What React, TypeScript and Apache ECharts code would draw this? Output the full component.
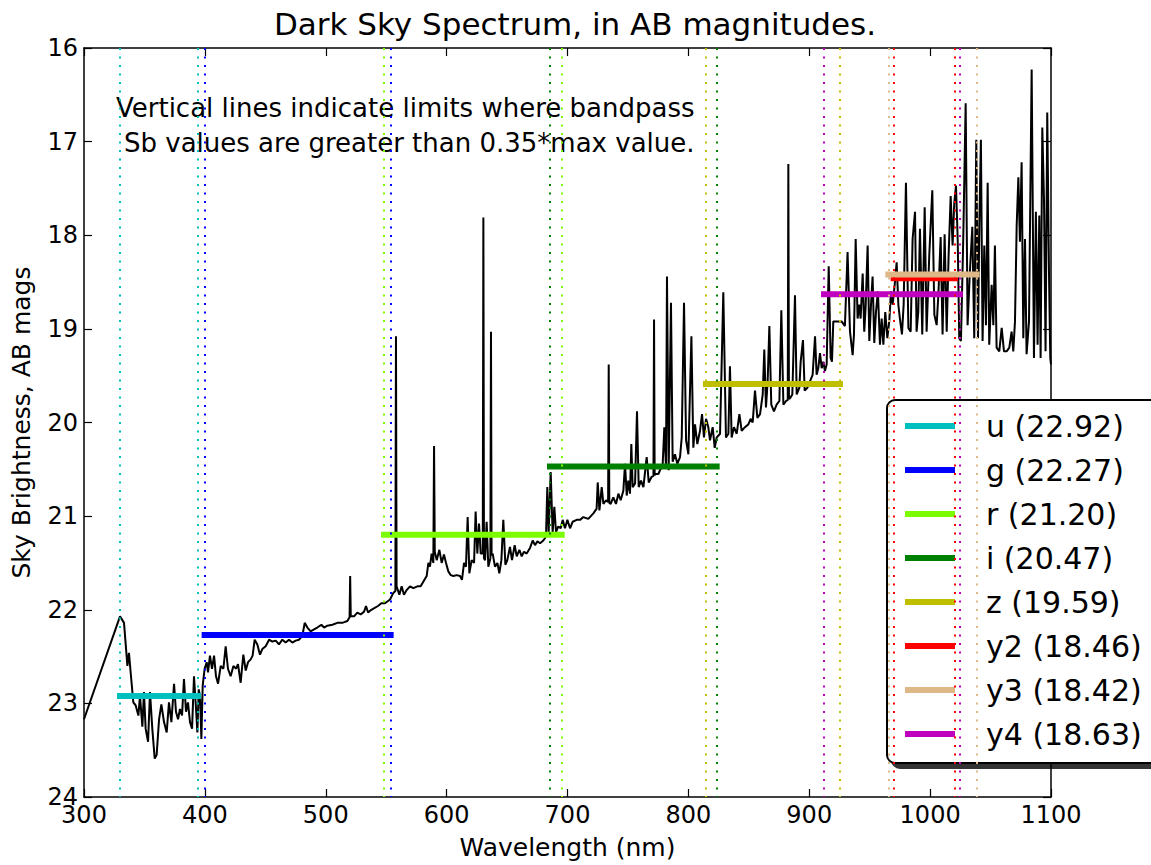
import React, { useEffect, useRef } from 'react';
import * as echarts from 'echarts';

// Spectrum: wavelength (nm) and sky brightness (AB mag)
const specWave = [
  300, 329.8, 333.1, 335.9, 337.2, 338.6, 340.8, 342.7, 345.0, 346.3, 348.3, 349.6, 351.0, 353.0, 354.6, 356.5,
  358.5, 360.1, 362.1, 364.0, 366.2, 368.4, 370.3, 372.3, 374.5, 376.1, 377.8, 379.4, 381.1, 382.7, 384.4, 386.0,
  387.7, 389.4, 391.0, 392.7, 393.8, 394.9, 396.0, 397.1, 398.2, 399.8, 401.5, 402.6, 404.2, 405.9, 407.6, 409.2,
  410.9, 413.1, 415.3, 417.2, 419.1, 421.3, 423.6, 425.8, 427.4, 429.6, 431.8, 433.8, 435.7, 437.9, 439.5, 441.2,
  443.4, 445.6, 447.5, 450.3, 453.1, 455.8, 458.6, 461.3, 464.1, 466.8, 469.6, 472.4, 475.1, 477.9, 480.6, 482.6,
  484.8, 487.5, 490.3, 493.0, 496.4, 498.6, 501.3, 505.5, 509.6, 513.7, 517.9, 519.7, 520.2, 520.7, 523.4, 526.1,
  528.9, 531.7, 533.3, 535.0, 537.7, 540.5, 543.2, 546.0, 549.0, 553.2, 555.9, 557.6, 558.1, 558.6, 560.9, 562.8,
  564.7, 566.9, 569.7, 572.5, 575.8, 578.5, 580.7, 583.5, 584.9, 586.2, 587.6, 589.0, 589.6, 590.2, 591.8, 594.0,
  595.9, 597.8, 599.5, 601.4, 603.4, 605.6, 608.3, 611.1, 612.7, 614.4, 616.0, 617.4, 618.8, 620.7, 622.7, 624.0,
  625.4, 626.8, 628.2, 629.9, 630.4, 630.9, 631.8, 633.1, 634.5, 636.2, 636.7, 637.2, 638.1, 640.0, 642.0, 643.6,
  645.3, 646.9, 648.6, 650.2, 652.4, 654.1, 656.3, 658.0, 660.2, 662.1, 664.0, 666.2, 669.0, 671.2, 673.1, 675.1,
  677.3, 680.0, 682.2, 683.3, 684.4, 686.1, 687.7, 689.1, 690.5, 692.4, 694.4, 696.0, 697.9, 699.9, 702.1, 704.3,
  707.6, 710.4, 713.1, 717.2, 721.4, 724.1, 725.0, 726.4, 728.3, 729.7, 731.9, 733.6, 734.1, 734.6, 735.7, 737.9,
  740.1, 742.1, 744.0, 746.2, 747.6, 749.0, 750.3, 751.7, 752.8, 753.9, 755.9, 757.5, 758.9, 760.8, 762.8, 765.5,
  767.2, 769.6, 771.1, 771.6, 772.1, 773.2, 775.2, 776.5, 778.7, 780.1, 781.5, 782.3, 783.7, 785.6, 787.0, 788.9,
  790.9, 793.1, 794.5, 796.4, 798.1, 800.0, 802.5, 804.1, 805.5, 807.4, 809.6, 811.3, 812.9, 814.6, 816.5, 817.9,
  820.1, 821.8, 823.4, 826.2, 828.9, 831.1, 833.1, 834.4, 835.8, 837.7, 840.0, 842.2, 844.1, 846.8, 849.6, 851.5,
  853.2, 855.1, 857.1, 859.3, 861.5, 862.8, 864.2, 865.6, 867.0, 868.6, 870.8, 873.0, 875.3, 876.9, 878.6, 880.8,
  882.2, 882.7, 883.2, 884.1, 886.0, 888.2, 889.6, 891.8, 892.9, 894.8, 896.2, 898.4, 900.6, 902.8, 904.8, 906.1,
  907.5, 908.9, 910.3, 911.7, 913.0, 914.4, 916.1, 917.7, 918.8, 919.9, 926.8, 929.5, 931.7, 933.7, 935.9, 937.0,
  938.4, 940.0, 941.4, 942.5, 944.2, 945.5, 946.6, 948.3, 949.7, 951.1, 952.4, 953.8, 955.2, 956.8, 958.5, 959.9,
  961.3, 962.9, 964.6, 966.2, 967.6, 969.0, 970.9, 972.3, 973.7, 975.0, 976.7, 978.1, 980.0, 982.0, 983.9, 985.5,
  987.5, 988.8, 990.2, 991.6, 993.5, 995.5, 997.1, 999.3, 1001.8, 1003.5, 1005.4, 1006.8, 1008.7, 1010.3, 1012.0, 1013.7,
  1015.3, 1017.0, 1018.6, 1020.0, 1021.4, 1022.8, 1024.1, 1025.5, 1027.4, 1029.4, 1031.0, 1032.9, 1034.9, 1036.5, 1038.2, 1039.6,
  1040.7, 1042.0, 1043.4, 1044.8, 1046.2, 1047.6, 1048.9, 1050.9, 1052.3, 1053.6, 1055.0, 1057.2, 1059.2, 1061.1, 1063.3, 1065.5,
  1067.4, 1068.8, 1070.2, 1071.6, 1073.0, 1074.3, 1075.7, 1077.1, 1078.5, 1079.8, 1081.8, 1084.0, 1085.9, 1087.5, 1088.9, 1090.3,
  1091.4, 1092.8, 1094.2, 1095.5, 1096.9, 1098.3, 1099.4, 1100,
];
const specMag = [
  23.17, 22.07, 22.14, 22.60, 22.46, 22.67, 22.99, 23.02, 23.13, 22.92, 23.25, 22.88, 23.27, 23.41, 22.88, 23.27,
  23.59, 23.55, 23.17, 23.01, 23.20, 23.31, 22.99, 23.20, 22.79, 23.09, 23.17, 23.06, 23.13, 22.74, 23.09, 22.99,
  23.20, 23.27, 22.71, 23.06, 23.31, 22.85, 22.92, 23.38, 22.81, 22.63, 22.56, 22.67, 22.49, 22.63, 22.49, 22.71,
  22.79, 22.60, 22.63, 22.39, 22.63, 22.71, 22.60, 22.63, 22.58, 22.78, 22.48, 22.65, 22.56, 22.53, 22.49, 22.32,
  22.37, 22.48, 22.42, 22.39, 22.32, 22.34, 22.33, 22.37, 22.32, 22.35, 22.32, 22.35, 22.33, 22.32, 22.28, 22.14,
  22.19, 22.23, 22.21, 22.19, 22.16, 22.19, 22.17, 22.16, 22.14, 22.14, 22.12, 22.08, 21.64, 22.07, 22.07, 22.03,
  22.05, 22.02, 21.96, 22.03, 22.00, 21.98, 21.96, 21.93, 21.93, 21.89, 21.82, 21.80, 19.08, 21.75, 21.84, 21.75,
  21.84, 21.79, 21.75, 21.77, 21.75, 21.75, 21.70, 21.64, 21.50, 21.54, 21.40, 21.50, 20.25, 21.38, 21.47, 21.36,
  21.50, 21.41, 21.50, 21.59, 21.63, 21.64, 21.63, 21.64, 21.68, 21.50, 21.54, 21.01, 21.61, 21.47, 21.50, 20.95,
  21.40, 21.08, 21.40, 21.40, 17.81, 21.45, 21.47, 21.06, 21.54, 21.45, 19.03, 21.42, 21.40, 21.54, 21.50, 21.61,
  21.47, 21.04, 21.52, 21.47, 21.33, 21.47, 21.31, 21.43, 21.36, 21.43, 21.38, 21.40, 21.34, 21.26, 21.31, 21.27,
  21.29, 21.26, 21.22, 20.69, 21.18, 20.53, 21.18, 20.90, 21.17, 21.11, 21.13, 21.04, 21.13, 21.04, 21.13, 21.06,
  21.04, 21.04, 21.01, 21.03, 20.97, 20.92, 20.64, 20.94, 20.69, 20.87, 20.83, 20.85, 19.38, 20.86, 20.87, 20.80,
  20.87, 20.76, 20.83, 20.73, 20.44, 20.78, 20.62, 20.76, 20.23, 20.69, 20.65, 19.88, 20.69, 20.62, 20.69, 20.37,
  20.64, 20.58, 20.57, 18.90, 20.56, 20.55, 20.55, 20.51, 20.46, 20.05, 20.48, 18.44, 20.51, 18.72, 20.42, 20.34,
  20.44, 20.37, 20.16, 18.72, 20.19, 20.34, 19.08, 20.27, 20.02, 20.23, 20.09, 19.91, 20.16, 19.96, 20.05, 20.19,
  20.05, 20.27, 20.16, 20.12, 18.61, 20.16, 20.12, 19.40, 20.16, 20.05, 20.12, 19.91, 20.09, 20.05, 20.02, 19.96,
  20.00, 19.66, 19.95, 19.91, 19.70, 19.22, 19.84, 19.56, 18.97, 19.81, 19.88, 19.81, 19.77, 18.80, 19.81, 19.77,
  19.76, 17.24, 19.75, 19.74, 19.70, 18.64, 19.70, 19.63, 19.35, 19.12, 19.66, 19.63, 19.56, 19.49, 19.08, 19.49,
  19.42, 19.26, 19.42, 19.35, 19.45, 19.38, 18.33, 19.31, 19.35, 18.92, 18.92, 18.97, 18.18, 19.03, 19.28, 19.06,
  18.04, 18.89, 18.74, 18.89, 18.41, 19.03, 18.78, 18.11, 19.13, 18.74, 18.44, 19.15, 18.82, 18.60, 19.17, 18.89,
  19.17, 18.82, 19.10, 18.92, 18.60, 18.74, 18.50, 18.29, 18.74, 18.89, 19.06, 18.74, 17.44, 18.99, 19.03, 18.04,
  17.75, 19.03, 18.82, 17.93, 19.06, 17.70, 19.03, 18.21, 17.52, 18.85, 18.96, 18.64, 18.02, 19.06, 17.99, 19.03,
  18.21, 17.58, 18.11, 17.65, 17.47, 18.04, 19.10, 19.13, 18.04, 16.59, 18.96, 18.39, 17.91, 19.10, 16.98, 19.10,
  17.90, 16.98, 19.13, 18.11, 18.96, 17.44, 19.17, 18.53, 18.96, 18.11, 19.20, 19.24, 18.99, 19.24, 19.24, 19.20,
  19.03, 19.24, 18.92, 17.90, 17.38, 18.07, 17.22, 19.10, 18.04, 19.27, 18.92, 16.23, 19.31, 17.75, 19.17, 17.79,
  19.31, 16.85, 17.61, 19.24, 16.69, 18.36, 19.31, 19.38,
];

// Bandpasses
const bandNames = ['u', 'g', 'r', 'i', 'z', 'y2', 'y3', 'y4'];
const bandMags = [22.92, 22.27, 21.2, 20.47, 19.59, 18.46, 18.42, 18.63];
const bandLo = [329.8, 399.8, 548.2, 685.5, 814.5, 969.8, 965.4, 912.2];
const bandHi = [394.3, 553.7, 695.2, 823.4, 925.4, 1020.6, 1038.5, 1024.6];
const bandColors = ['#00bfbf', '#0000ff', '#7cfc00', '#008000', '#bfbf00', '#ff0000', '#deb887', '#bf00bf'];

const titleText = 'Dark Sky Spectrum, in AB magnitudes.';
const noteLines = ['Vertical lines indicate limits where bandpass', ' Sb values are greater than 0.35*max value.'];
const xName = 'Wavelength (nm)';
const yName = 'Sky Brightness, AB mags';

export default function App() {
  const ref = useRef<HTMLDivElement>(null);
  useEffect(() => {
    const chart = echarts.init(ref.current!, null, { renderer: 'svg' });
    const font = 'DejaVu Sans';
    const legendNames = bandNames.map((n, i) => `${n} (${bandMags[i].toFixed(2)})`);
    const bandSeries = bandNames.map((n, i) => ({
      name: legendNames[i],
      type: 'line',
      data: [[bandLo[i], bandMags[i]], [bandHi[i], bandMags[i]]],
      symbol: 'none',
      showSymbol: false,
      silent: true,
      lineStyle: { color: bandColors[i], width: 6, cap: 'square' },
      itemStyle: { color: bandColors[i] },
      z: 4,
      markLine: {
        silent: true,
        symbol: 'none',
        label: { show: false },
        lineStyle: { color: bandColors[i], width: 2, type: [2, 6.5] },
        data: [{ xAxis: bandLo[i] }, { xAxis: bandHi[i] }],
      },
    }));
    const axisLine = { show: true, onZero: false, lineStyle: { color: '#000', width: 1.5 } };
    const axisTick = { show: true, inside: true, length: 8, lineStyle: { color: '#000', width: 1.2 } };
    chart.setOption({
      animation: false,
      title: {
        text: titleText,
        left: 570,
        textAlign: 'center',
        top: 3,
        textStyle: { fontFamily: font, fontSize: 31, fontWeight: 'normal', color: '#000' },
      },
      grid: { left: 84, top: 48, width: 967, height: 754, containLabel: false },
      xAxis: [
        {
          type: 'value', min: 300, max: 1100, interval: 100, position: 'bottom',
          axisLine, axisTick, splitLine: { show: false },
          axisLabel: { fontFamily: font, fontSize: 24, color: '#000', margin: 6, formatter: (v: number) => String(v) },
          name: xName, nameLocation: 'middle', nameGap: 38,
          nameTextStyle: { fontFamily: font, fontSize: 25, color: '#000' },
        },
        {
          type: 'value', min: 300, max: 1100, interval: 100, position: 'top',
          axisLine, axisTick, splitLine: { show: false }, axisLabel: { show: false },
        },
      ],
      yAxis: [
        {
          type: 'value', min: 16, max: 24, interval: 1, inverse: true, position: 'left',
          axisLine, axisTick, splitLine: { show: false },
          axisLabel: { fontFamily: font, fontSize: 24, color: '#000', margin: 6 },
          name: yName, nameLocation: 'middle', nameGap: 50, nameRotate: 90,
          nameTextStyle: { fontFamily: font, fontSize: 25, color: '#000' },
        },
        {
          type: 'value', min: 16, max: 24, interval: 1, inverse: true, position: 'right',
          axisLine, axisTick, splitLine: { show: false }, axisLabel: { show: false },
        },
      ],
      legend: {
        orient: 'vertical', left: 887, top: 400,
        data: legendNames.map((n) => ({ name: n, icon: 'rect' })),
        itemWidth: 50, itemHeight: 6, itemGap: 14,
        padding: [11, 24, 14, 18],
        backgroundColor: '#fff', borderColor: '#000', borderWidth: 2, borderRadius: 8,
        shadowColor: 'rgba(0,0,0,0.8)', shadowBlur: 0, shadowOffsetX: 5, shadowOffsetY: 5,
        selectedMode: false,
        textStyle: { fontFamily: font, fontSize: 30, color: '#000', lineHeight: 30, padding: [0, 0, 0, 26] },
      },
      graphic: [
        {
          type: 'text', left: 116, top: 95, silent: true,
          style: { text: noteLines[0], fontFamily: font, fontSize: 26, fill: '#000' },
        },
        {
          type: 'text', left: 124, top: 130, silent: true,
          style: { text: noteLines[1].trim(), fontFamily: font, fontSize: 26, fill: '#000' },
        },
      ],
      series: [
        {
          name: 'spectrum', type: 'line',
          data: specWave.map((w, i) => [w, specMag[i]]),
          symbol: 'none', showSymbol: false, silent: true,
          lineStyle: { color: '#000', width: 2 },
          z: 2,
        },
        ...bandSeries,
      ],
    });
    return () => chart.dispose();
  }, []);
  return <div ref={ref} style={{ position: 'absolute', left: 0, top: 0, width: 1151, height: 865 }} />;
}
